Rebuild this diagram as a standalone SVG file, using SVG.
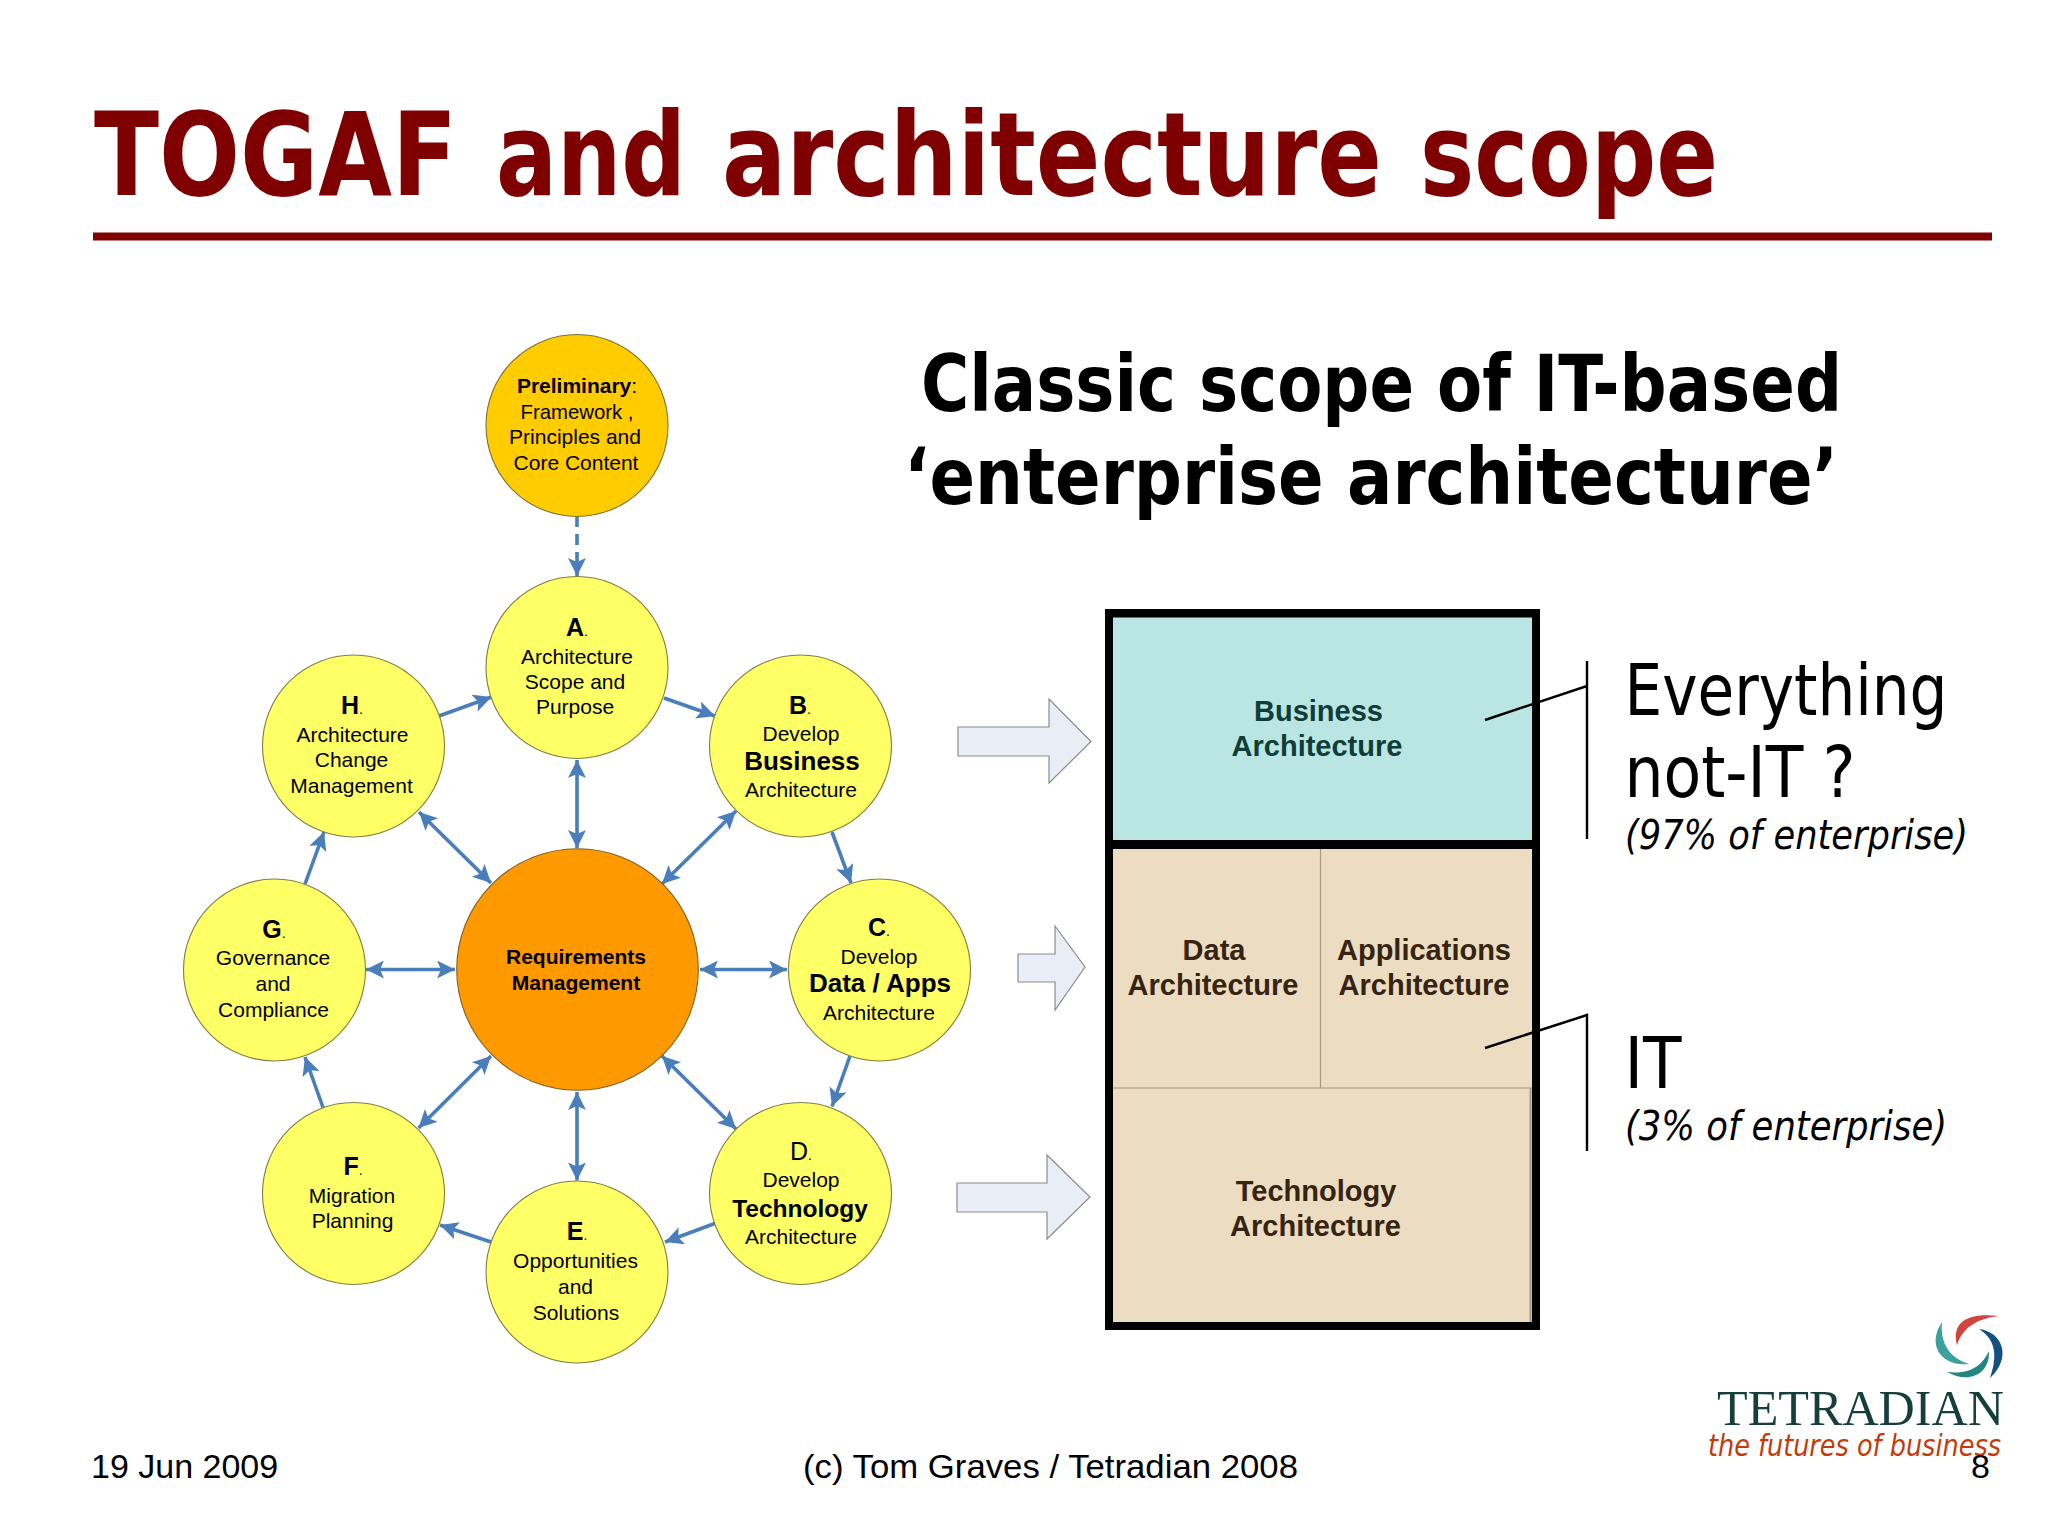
<svg xmlns="http://www.w3.org/2000/svg" width="2048" height="1536" viewBox="0 0 2048 1536">
<style>
text{font-family:"Liberation Sans",Arial,sans-serif;fill:#000;text-anchor:middle}
.n{font-size:21px}
.b{font-size:21px;font-weight:700}
.l{font-size:25px;font-weight:700}
.d{font-size:14px;font-weight:400}
.h{font-size:26px;font-weight:700}
.small{fill:#ffff66;stroke:#7f7f40;stroke-width:1.1}
.ta{font-family:"DejaVu Sans",sans-serif;font-stretch:condensed;text-anchor:start}
.box{font-size:29px;font-weight:700}
.conn{fill:none;stroke:#4a7ebb;stroke-width:3.6}
.blk{fill:#e9edf6;stroke:#8c8c8c;stroke-width:1.2}
.foot{font-size:34px;text-anchor:start}
.call{fill:none;stroke:#000;stroke-width:2.4}
</style>
<defs>
<marker id="end" markerUnits="userSpaceOnUse" markerWidth="22" markerHeight="22" refX="18" refY="9" orient="auto"><path d="M0 0L18 9L0 18L4 9Z" fill="#4a7ebb"/></marker>
<marker id="start" markerUnits="userSpaceOnUse" markerWidth="22" markerHeight="22" refX="0" refY="9" orient="auto"><path d="M18 0L0 9L18 18L14 9Z" fill="#4a7ebb"/></marker>
</defs>
<rect width="2048" height="1536" fill="#fff"/>
<g id="title">
<text class="ta" y="195" font-size="116" font-weight="700" style="fill:#7f0000"><tspan x="94" textLength="363" lengthAdjust="spacingAndGlyphs">TOGAF</tspan> <tspan x="496" textLength="190" lengthAdjust="spacingAndGlyphs">and</tspan> <tspan x="722" textLength="660" lengthAdjust="spacingAndGlyphs">architecture</tspan> <tspan x="1420" textLength="298" lengthAdjust="spacingAndGlyphs">scope</tspan></text>
<rect x="93" y="232.500" width="1899" height="8" fill="#7f0000"/>
</g>
<g id="subtitle">
<text class="ta" x="921" y="411" font-size="78" font-weight="700" textLength="921" lengthAdjust="spacingAndGlyphs">Classic scope of IT-based</text>
<text class="ta" x="904" y="504" font-size="78" font-weight="700" textLength="934" lengthAdjust="spacingAndGlyphs">‘enterprise architecture’</text>
</g>
<g id="connectors">
<path class="conn" stroke-dasharray="11 7" marker-end="url(#end)" d="M577 516V576"/>
<path class="conn" marker-end="url(#end)" d="M439 716L491.500 697"/>
<path class="conn" marker-end="url(#end)" d="M664 698L715 716"/>
<path class="conn" marker-end="url(#end)" d="M832 832L851 883"/>
<path class="conn" marker-end="url(#end)" d="M850 1056L832 1106.500"/>
<path class="conn" marker-end="url(#end)" d="M716 1223L665 1242"/>
<path class="conn" marker-end="url(#end)" d="M491 1242L440 1225"/>
<path class="conn" marker-end="url(#end)" d="M323 1107.500L305 1057"/>
<path class="conn" marker-end="url(#end)" d="M305 884L324 832"/>
<path class="conn" marker-start="url(#start)" marker-end="url(#end)" d="M577 760V848"/>
<path class="conn" marker-start="url(#start)" marker-end="url(#end)" d="M419 812L491 883"/>
<path class="conn" marker-start="url(#start)" marker-end="url(#end)" d="M736 811L662 884"/>
<path class="conn" marker-start="url(#start)" marker-end="url(#end)" d="M366 969.500H455"/>
<path class="conn" marker-start="url(#start)" marker-end="url(#end)" d="M700 969.500H787"/>
<path class="conn" marker-start="url(#start)" marker-end="url(#end)" d="M491 1056L418.500 1128"/>
<path class="conn" marker-start="url(#start)" marker-end="url(#end)" d="M662 1056L736 1129"/>
<path class="conn" marker-start="url(#start)" marker-end="url(#end)" d="M577 1092V1180.500"/>
</g>
<g id="prelim">
<circle cx="577" cy="425.500" r="91" fill="#ffcc00" stroke="#7f7030" stroke-width="1.1"/>
<text x="577" y="393" class="b">Preliminary<tspan font-weight="400">:</tspan></text>
<text x="577" y="418.500" class="n" textLength="113" lengthAdjust="spacingAndGlyphs">Framework ,</text>
<text x="575" y="444" class="n">Principles and</text>
<text x="576" y="470" class="n">Core Content</text>
</g>
<g id="node-a">
<circle class="small" cx="577" cy="667.500" r="91"/>
<text x="577" y="636" class="l">A<tspan class="d">.</tspan></text>
<text x="577" y="663.500" class="n">Architecture</text>
<text x="575" y="689" class="n">Scope and</text>
<text x="575" y="714" class="n">Purpose</text>
</g>
<g id="node-h">
<circle class="small" cx="353.500" cy="746" r="91"/>
<text x="352" y="713.500" class="l">H<tspan class="d">.</tspan></text>
<text x="352.500" y="742" class="n">Architecture</text>
<text x="351.500" y="767" class="n">Change</text>
<text x="351.500" y="793" class="n">Management</text>
</g>
<g id="node-b">
<circle class="small" cx="800.500" cy="746" r="91"/>
<text x="800" y="714" class="l">B<tspan class="d">.</tspan></text>
<text x="801" y="741" class="n">Develop</text>
<text x="802" y="770" class="h">Business</text>
<text x="801" y="797" class="n">Architecture</text>
</g>
<g id="node-g">
<circle class="small" cx="274.500" cy="970" r="91"/>
<text x="274" y="938" class="l">G<tspan class="d">.</tspan></text>
<text x="273" y="965" class="n">Governance</text>
<text x="273" y="991" class="n">and</text>
<text x="273.500" y="1017" class="n">Compliance</text>
</g>
<g id="node-req">
<circle cx="577.500" cy="969.500" r="120.800" fill="#ff9900" stroke="#7f6020" stroke-width="1.1"/>
<text x="576" y="963.500" class="b">Requirements</text>
<text x="576" y="990" class="b">Management</text>
</g>
<g id="node-c">
<circle class="small" cx="879.500" cy="970" r="91"/>
<text x="879" y="936" class="l">C<tspan class="d">.</tspan></text>
<text x="879" y="963.500" class="n">Develop</text>
<text x="880" y="992" class="h">Data / Apps</text>
<text x="879" y="1020" class="n">Architecture</text>
</g>
<g id="node-f">
<circle class="small" cx="353.500" cy="1193.500" r="91"/>
<text x="353" y="1175" class="l">F<tspan class="d">.</tspan></text>
<text x="352" y="1203" class="n">Migration</text>
<text x="352.500" y="1228" class="n">Planning</text>
</g>
<g id="node-d">
<circle class="small" cx="800.500" cy="1193.500" r="91"/>
<text x="801" y="1160" style="font-size:25px">D<tspan class="d">.</tspan></text>
<text x="801" y="1187" class="n">Develop</text>
<text x="800" y="1217" class="h" style="font-size:24.500px">Technology</text>
<text x="801" y="1244" class="n">Architecture</text>
</g>
<g id="node-e">
<circle class="small" cx="577" cy="1272" r="91"/>
<text x="577" y="1240" class="l">E<tspan class="d">.</tspan></text>
<text x="575.500" y="1268" class="n">Opportunities</text>
<text x="575.500" y="1293.500" class="n">and</text>
<text x="576" y="1320" class="n">Solutions</text>
</g>
<g id="block-arrows">
<path class="blk" d="M958 727H1049V699L1091 741.500L1049 783V756H958Z"/>
<path class="blk" d="M1018 954H1055V926L1085 967L1055 1010V982H1018Z"/>
<path class="blk" d="M957 1183H1047V1155L1090 1197L1047 1239V1212H957Z"/>
</g>
<g id="scope-box">
<rect x="1105" y="609" width="435" height="721" fill="#000"/>
<rect x="1113" y="617.500" width="419" height="222.500" fill="#b9e6e3"/>
<rect x="1113" y="849" width="419" height="473" fill="#ebdcc2"/>
<path d="M1320.500 849V1088M1113 1088H1532" fill="none" stroke="#a89a80" stroke-width="1.2"/>
<path d="M1530.500 1088V1322" fill="none" stroke="#a89a80" stroke-width="2"/>
</g>
<g id="box-labels">
<text x="1318.500" y="721" class="box" style="fill:#0f3d37">Business</text>
<text x="1317" y="756" class="box" style="fill:#0f3d37">Architecture</text>
<text x="1214" y="960" class="box" style="fill:#362310">Data</text>
<text x="1213" y="995" class="box" style="fill:#362310">Architecture</text>
<text x="1424" y="960" class="box" style="fill:#362310">Applications</text>
<text x="1424" y="995" class="box" style="fill:#362310">Architecture</text>
<text x="1316" y="1201" class="box" style="fill:#362310">Technology</text>
<text x="1315.500" y="1236" class="box" style="fill:#362310">Architecture</text>
</g>
<g id="callouts">
<path class="call" d="M1485 720L1587 686M1587 661V839"/>
<path class="call" d="M1485 1048L1587 1015V1151"/>
<text class="ta" x="1624.500" y="715" font-size="72" textLength="323" lengthAdjust="spacingAndGlyphs">Everything</text>
<text class="ta" x="1624.500" y="797" font-size="72" textLength="231" lengthAdjust="spacingAndGlyphs">not-IT ?</text>
<text class="ta" x="1625" y="849" font-size="40" font-style="italic" textLength="343" lengthAdjust="spacingAndGlyphs">(97% of enterprise)</text>
<text class="ta" x="1624.500" y="1088" font-size="72" textLength="57" lengthAdjust="spacingAndGlyphs">IT</text>
<text class="ta" x="1625" y="1140" font-size="40" font-style="italic" textLength="322" lengthAdjust="spacingAndGlyphs">(3% of enterprise)</text>
</g>
<g id="logo">
<path d="M1957 1345C1951 1322 1968 1312 1999 1316C1982 1318 1964 1324 1957 1345Z" fill="#d2443f"/>
<path d="M1979 1329C2003 1332 2012 1358 1990 1378C1997 1358 1997 1340 1979 1329Z" fill="#14507f"/>
<path d="M1989 1351C1990 1375 1968 1384 1947 1372C1965 1374 1980 1370 1989 1351Z" fill="#23867f"/>
<path d="M1969 1364C1942 1367 1926 1346 1942 1322C1940 1344 1950 1358 1969 1364Z" fill="#3ca09c"/>
<text x="1717" y="1425" font-size="51" textLength="287" lengthAdjust="spacingAndGlyphs" style="font-family:'Liberation Serif',serif;fill:#163f3c;text-anchor:start">TETRADIAN</text>
<text class="ta" x="1708" y="1456" font-size="30" font-style="italic" textLength="293" lengthAdjust="spacingAndGlyphs" style="fill:#c23b0a">the futures of business</text>
</g>
<g id="footer">
<text class="foot" x="91" y="1478">19 Jun 2009</text>
<text class="foot" x="803" y="1478" textLength="495" lengthAdjust="spacingAndGlyphs">(c) Tom Graves / Tetradian 2008</text>
<text class="foot" x="1971" y="1478">8</text>
</g>
</svg>
